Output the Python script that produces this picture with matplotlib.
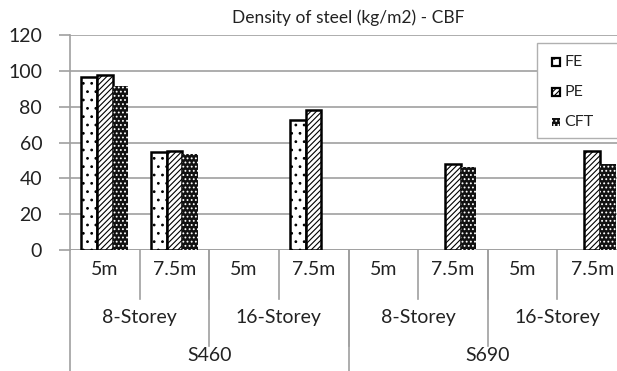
import numpy as np
import matplotlib
matplotlib.use("Agg")
import matplotlib.pyplot as plt
from matplotlib.patches import Rectangle
import matplotlib.transforms as mtrans

plt.rcParams['font.family'] = ['Lato', 'DejaVu Sans']
plt.rcParams['hatch.linewidth'] = 0.8

# steel density per case (kg/m2); nan = case not analysed
spans = ['5m', '7.5m', '5m', '7.5m', '5m', '7.5m', '5m', '7.5m']
storeys = ['8-Storey', '16-Storey', '8-Storey', '16-Storey']
grades = ['S460', 'S690']
fe = [96.5, 54.5, np.nan, 72.5, np.nan, np.nan, np.nan, np.nan]
pe = [97.5, 55.5, np.nan, 78.0, np.nan, 48.0, np.nan, 55.0]
cft = [91.5, 53.5, np.nan, np.nan, np.nan, 46.5, np.nan, 48.0]

series = ['FE', 'PE', 'CFT']
styles = {
    'FE': dict(facecolor='white', edgecolor='black', hatch='..', linewidth=1.8),
    'PE': dict(facecolor='white', edgecolor='black', hatch='//////', linewidth=1.8),
    'CFT': dict(facecolor='#111111', edgecolor='white', hatch='....', linewidth=0),
}

txt = '#222222'
grid_c = '#a0a0a0'
W, H = 617, 371

fig = plt.figure(figsize=(W / 100, H / 100), dpi=100)
ax = fig.add_axes([70 / W, 121 / H, 557 / W, 215 / H])

x = np.arange(len(spans))
w = 0.224
for off, name, vals in zip([-w, 0, w], series, [fe, pe, cft]):
    ax.bar(x + off, vals, w, zorder=3, **styles[name])

ax.set_xlim(-0.5, len(spans) - 0.5)
ax.set_ylim(0, 120)
ax.set_yticks(np.arange(0, 121, 20))
ax.tick_params(axis='y', length=8, color=grid_c, width=1.2, labelsize=14, labelcolor=txt, pad=12)
ax.set_xticks([])
ax.yaxis.grid(True, color=grid_c, linewidth=1.2, zorder=0)
ax.set_axisbelow(True)
for s in ['top', 'right', 'bottom']:
    ax.spines[s].set_visible(False)
ax.spines['left'].set_color(grid_c)
ax.spines['left'].set_linewidth(1.2)
ax.axhline(0, color=grid_c, linewidth=1.2, zorder=2)

ax.set_title('Density of steel (kg/m2) - CBF', fontsize=12.5, color=txt, pad=9)

# multi-level category axis below the plot
tr = mtrans.blended_transform_factory(ax.transData, ax.transAxes)
ax.plot([-0.5, -0.5], [0, -1.2], transform=tr, color=grid_c, lw=1.2, clip_on=False)
for i, s in enumerate(spans):
    ax.text(i, -0.093, s, transform=tr, ha='center', va='center', fontsize=14, color=txt)
    ax.plot([i + 0.5, i + 0.5], [0, -0.228], transform=tr, color=grid_c, lw=1.2, clip_on=False)
for j, s in enumerate(storeys):
    ax.text(2 * j + 0.5, -0.316, s, transform=tr, ha='center', va='center', fontsize=14, color=txt)
    ax.plot([2 * j + 1.5, 2 * j + 1.5], [0, -0.447], transform=tr, color=grid_c, lw=1.2, clip_on=False)
for k, s in enumerate(grades):
    ax.text(4 * k + 1.5, -0.493, s, transform=tr, ha='center', va='center', fontsize=14, color=txt)
    ax.plot([4 * k + 3.5, 4 * k + 3.5], [0, -1.2], transform=tr, color=grid_c, lw=1.2, clip_on=False)

# legend box, laid out in pixels
px = mtrans.Affine2D().scale(1 / W, -1 / H).translate(0, 1) + fig.transFigure
fig.patches.append(Rectangle((537, 43), 100, 95, transform=px, facecolor='white',
                             edgecolor='#b0b0b0', linewidth=1.0, zorder=5))
for n, name in enumerate(series):
    yc = 62 + 30 * n
    st = dict(styles[name])
    if name != 'CFT':
        st['linewidth'] = 1.6
    fig.patches.append(Rectangle((552, yc - 4), 8, 8, transform=px, zorder=6, **st))
    fig.text(564 / W, 1 - yc / H, name, ha='left', va='center', fontsize=11.5, color=txt, zorder=6)

fig.savefig('out.png', dpi=100)
